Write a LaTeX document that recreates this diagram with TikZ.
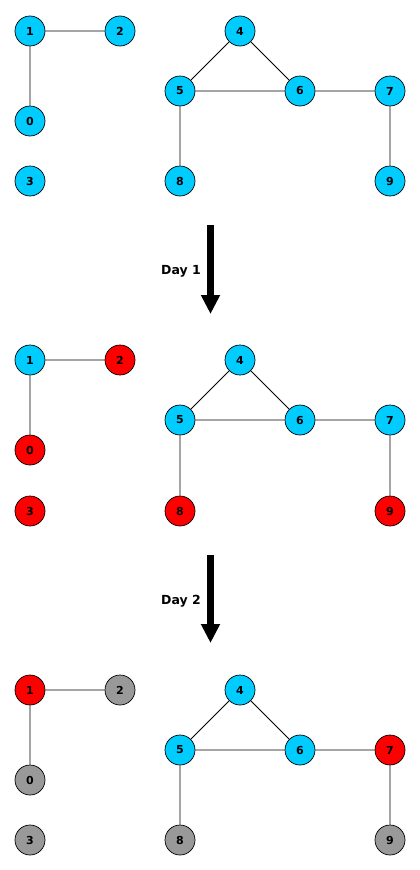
\documentclass[tikz,border=0pt]{standalone}
\usepackage{fontspec}
\setmainfont{DejaVu Sans}
\usetikzlibrary{arrows.meta}
\definecolor{ncyan}{HTML}{00CCFF}
\definecolor{nred}{HTML}{FF0000}
\definecolor{ngray}{HTML}{999999}
\tikzset{
  vtx/.style={circle, draw=black, line width=0.7pt, minimum size=30pt, inner sep=0pt, font=\fontsize{11}{12}\selectfont\bfseries},
  cy/.style={vtx, fill=ncyan},
  rd/.style={vtx, fill=nred},
  gr/.style={vtx, fill=ngray},
  edge/.style={line width=0.8pt, draw=black},
  bigarrow/.style={line width=7pt, -{Triangle[width=18pt,length=19pt]}},
  daylbl/.style={font=\fontsize{12.5}{14}\selectfont\bfseries, anchor=east, inner sep=0pt}
}
\begin{document}
\begin{tikzpicture}[x=1pt,y=-1pt]
\useasboundingbox (0,0) rectangle (420,870);
% panel 1
\node[cy] (a1) at (30,31) {1};
\node[cy] (a2) at (120,31) {2};
\node[cy] (a0) at (30,121) {0};
\node[cy] (a3) at (30,181) {3};
\node[cy] (a4) at (240,31) {4};
\node[cy] (a5) at (180,91) {5};
\node[cy] (a6) at (300,91) {6};
\node[cy] (a7) at (390,91) {7};
\node[cy] (a8) at (180,181) {8};
\node[cy] (a9) at (390,181) {9};
\draw[edge] (a1)--(a2) (a1)--(a0) (a4)--(a5) (a4)--(a6) (a5)--(a6) (a6)--(a7) (a5)--(a8) (a7)--(a9);
% arrow 1
\coordinate (s1) at (210.5,225);
\coordinate (e1) at (210.5,314);
\draw[bigarrow] (s1) -- (e1);
\node[daylbl] (d1) at (201,271) {Day 1};
% panel 2
\node[cy] (b1) at (30,360) {1};
\node[rd] (b2) at (120,360) {2};
\node[rd] (b0) at (30,450) {0};
\node[rd] (b3) at (30,511) {3};
\node[cy] (b4) at (240,360) {4};
\node[cy] (b5) at (180,420) {5};
\node[cy] (b6) at (300,420) {6};
\node[cy] (b7) at (390,420) {7};
\node[rd] (b8) at (180,511) {8};
\node[rd] (b9) at (390,511) {9};
\draw[edge] (b1)--(b2) (b1)--(b0) (b4)--(b5) (b4)--(b6) (b5)--(b6) (b6)--(b7) (b5)--(b8) (b7)--(b9);
% arrow 2
\coordinate (s2) at (210.5,555);
\coordinate (e2) at (210.5,643);
\draw[bigarrow] (s2) -- (e2);
\node[daylbl] (d2) at (201,601) {Day 2};
% panel 3
\node[rd] (c1) at (30,690) {1};
\node[gr] (c2) at (120,690) {2};
\node[gr] (c0) at (30,780) {0};
\node[gr] (c3) at (30,840) {3};
\node[cy] (c4) at (240,690) {4};
\node[cy] (c5) at (180,750) {5};
\node[cy] (c6) at (300,750) {6};
\node[rd] (c7) at (390,750) {7};
\node[gr] (c8) at (180,840) {8};
\node[gr] (c9) at (390,840) {9};
\draw[edge] (c1)--(c2) (c1)--(c0) (c4)--(c5) (c4)--(c6) (c5)--(c6) (c6)--(c7) (c5)--(c8) (c7)--(c9);
\end{tikzpicture}
\end{document}
